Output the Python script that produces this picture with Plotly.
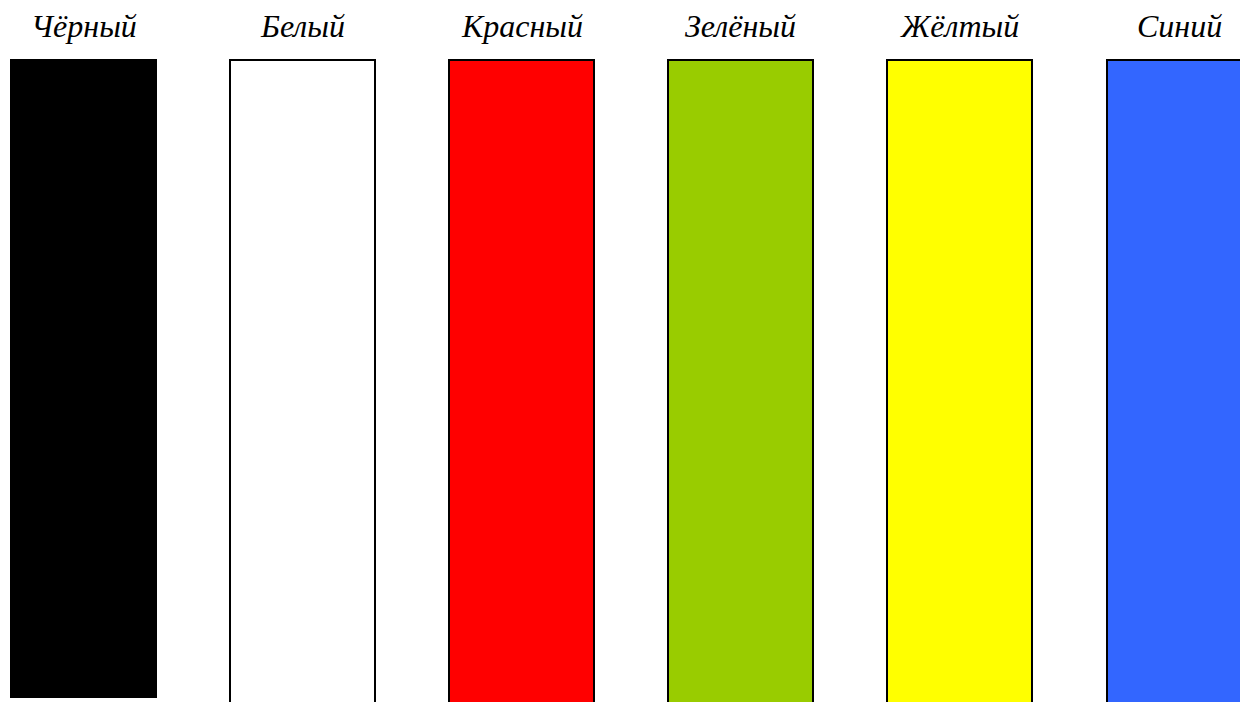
import plotly.graph_objects as go

colour_names = ["Чёрный", "Белый", "Красный", "Зелёный", "Жёлтый", "Синий"]
fill_colours = ["#000000", "#FFFFFF", "#FF0000", "#99CC00", "#FFFF00", "#3366FF"]
bar_tops = [100, 100, 100, 100, 100, 100]
bar_bases = [0, -2, -2, -2, -2, -2]

positions = list(range(len(colour_names)))
heights = [t - b for t, b in zip(bar_tops, bar_bases)]

W, H = 1240, 702
pitch = 219.1
c0 = 83.5
x_lo = -c0 / pitch
x_hi = (W - c0) / pitch
bar_w = 145 / pitch

top_px, bot_px = 60, 697
scale = (bot_px - top_px) / 100.0
y_hi = 100 + top_px / scale
y_lo = -(H - bot_px) / scale

fig = go.Figure()
fig.add_trace(go.Bar(
    x=positions, y=heights, base=bar_bases, width=bar_w,
    marker=dict(color=fill_colours, line=dict(color="#000000", width=2)),
    hoverinfo="skip", showlegend=False,
))

for i, name in enumerate(colour_names):
    fig.add_annotation(
        x=i, xref="x", y=1 - 26 / H, yref="paper", yanchor="middle",
        text=name, showarrow=False,
        font=dict(family="Liberation Serif", size=32, color="#000000", style="italic"),
    )

fig.update_layout(
    width=W, height=H,
    margin=dict(l=0, r=0, t=0, b=0),
    paper_bgcolor="white", plot_bgcolor="white",
    xaxis=dict(range=[x_lo, x_hi], visible=False, fixedrange=True),
    yaxis=dict(range=[y_lo, y_hi], visible=False, fixedrange=True),
    bargap=0,
)

fig.write_html(
    "out.html",
    config={"displayModeBar": False},
    post_script="document.body.style.margin='0';document.body.style.overflow='hidden';",
)
